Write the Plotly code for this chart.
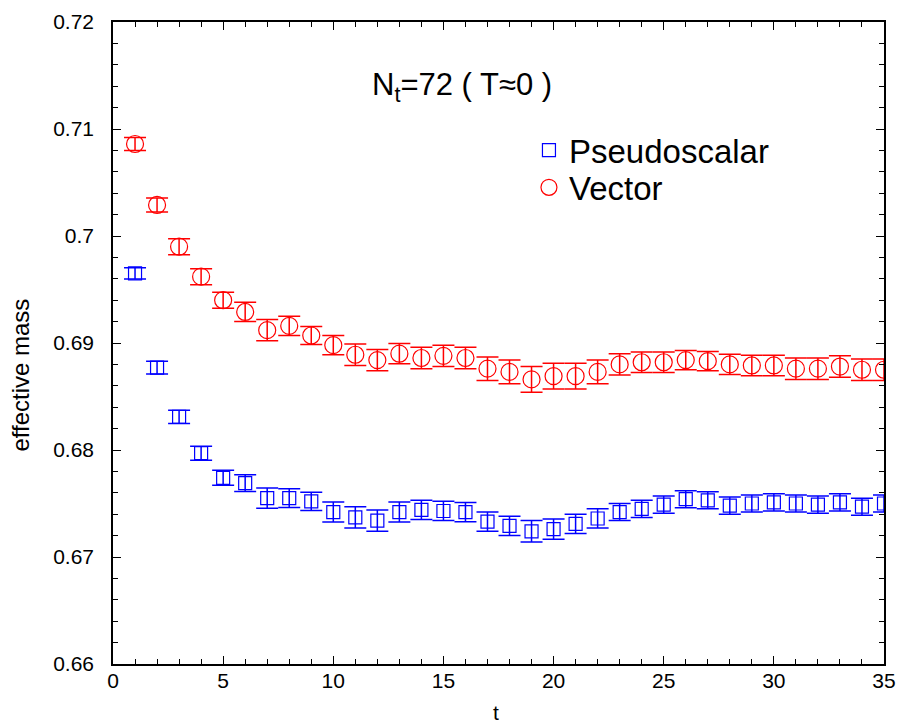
import plotly.graph_objects as go

t_vals = list(range(1, 36))

vector_mass = [0.7086, 0.7029, 0.6990, 0.6962, 0.6940, 0.6929, 0.6912, 0.6916, 0.6907, 0.6898,
               0.6889, 0.6884, 0.6890, 0.6886, 0.6888, 0.6886, 0.6876, 0.6873, 0.6866, 0.6869,
               0.6869, 0.6873, 0.6880, 0.6882, 0.6882, 0.6884, 0.6883, 0.6880, 0.6879, 0.6879,
               0.6876, 0.6876, 0.6878, 0.6875, 0.6875]
vector_err = [0.0006, 0.00065, 0.00075, 0.00075, 0.00075, 0.0009, 0.001, 0.0009, 0.00085, 0.0009,
              0.001, 0.001, 0.00095, 0.001, 0.001, 0.001, 0.0011, 0.0011, 0.0012, 0.0012,
              0.0012, 0.0011, 0.001, 0.00095, 0.00095, 0.0009, 0.0009, 0.00095, 0.00095, 0.00095,
              0.001, 0.001, 0.001, 0.001, 0.001]

ps_mass = [0.6965, 0.6877, 0.6831, 0.6797, 0.6774, 0.6769, 0.6755, 0.6755, 0.6752, 0.6742,
           0.6737, 0.6734, 0.6742, 0.6744, 0.6743, 0.6742, 0.6733, 0.6729, 0.6724, 0.6726,
           0.6731, 0.6736, 0.6742, 0.6745, 0.6749, 0.6754, 0.6753, 0.6748, 0.6750, 0.6751,
           0.6750, 0.6749, 0.6751, 0.6747, 0.6750]
ps_err = [0.00053, 0.0006, 0.00062, 0.00065, 0.0007, 0.00078, 0.00095, 0.00087, 0.00085, 0.00093,
          0.001, 0.001, 0.00093, 0.0009, 0.0009, 0.0009, 0.0009, 0.0009, 0.001, 0.00095,
          0.0009, 0.0009, 0.0008, 0.0008, 0.0008, 0.0008, 0.0008, 0.0008, 0.0008, 0.0008,
          0.0008, 0.0008, 0.0008, 0.0008, 0.0008]

y_tickvals = [0.66, 0.67, 0.68, 0.69, 0.70, 0.71, 0.72]
y_ticktext = ["0.66", "0.67", "0.68", "0.69", "0.7", "0.71", "0.72"]
x_tickvals = [0, 5, 10, 15, 20, 25, 30, 35]
x_ticktext = ["0", "5", "10", "15", "20", "25", "30", "35"]

FONT = "Liberation Sans, Arial, sans-serif"

fig = go.Figure()
fig.add_trace(go.Scatter(
    x=t_vals, y=ps_mass, mode="markers", name="Pseudoscalar", legend="legend",
    marker=dict(symbol="square-open", size=13, color="#0000ff", line=dict(width=1.2, color="#0000ff")),
    error_y=dict(type="data", array=ps_err, visible=True, color="#0000ff", thickness=1.5, width=11),
))
fig.add_trace(go.Scatter(
    x=t_vals, y=vector_mass, mode="markers", name="Vector", legend="legend2",
    marker=dict(symbol="circle-open", size=17, color="#ff0000", line=dict(width=1.2, color="#ff0000")),
    error_y=dict(type="data", array=vector_err, visible=True, color="#ff0000", thickness=1.5, width=11),
))

axis_common = dict(
    showline=True, linecolor="black", linewidth=1.5, mirror="allticks",
    ticks="inside", ticklen=8, tickwidth=1.2, tickcolor="black",
    showgrid=False, zeroline=False, automargin=False,
    tickfont=dict(family=FONT, size=21, color="black"),
)

fig.update_xaxes(
    range=[0, 35], tickvals=x_tickvals, ticktext=x_ticktext,
    minor=dict(dtick=1, ticks="inside", ticklen=5, tickwidth=1, tickcolor="black"),
    ticklabelstandoff=-3,
    **axis_common,
)
fig.update_yaxes(
    range=[0.66, 0.72], tickvals=y_tickvals, ticktext=y_ticktext,
    minor=dict(dtick=0.002, tick0=0.66, ticks="inside", ticklen=5, tickwidth=1, tickcolor="black"),
    ticklabelstandoff=13,
    **axis_common,
)

fig.add_annotation(
    text="t", xref="paper", yref="paper",
    x=0.497, y=-0.075, showarrow=False,
    xanchor="center", yanchor="middle",
    font=dict(family=FONT, size=21, color="black"),
)
fig.add_annotation(
    text="effective mass", xref="paper", yref="paper",
    x=-0.120, y=0.45, showarrow=False, textangle=-90,
    xanchor="center", yanchor="middle",
    font=dict(family=FONT, size=24, color="black"),
)
fig.add_annotation(
    text="N<sub>t</sub>=72 ( T≈0 )", xref="paper", yref="paper",
    x=0.453, y=0.898, showarrow=False, xanchor="center", yanchor="middle",
    font=dict(family=FONT, size=31, color="black"),
)

legend_style = dict(xanchor="left", yanchor="top",
                    font=dict(family=FONT, size=33, color="black"),
                    bgcolor="rgba(0,0,0,0)", borderwidth=0)

fig.update_layout(
    width=900, height=726,
    margin=dict(l=113, r=16, t=22, b=62),
    paper_bgcolor="white", plot_bgcolor="white",
    showlegend=True,
    legend=dict(x=0.5395, y=0.844, **legend_style),
    legend2=dict(x=0.5395, y=0.786, **legend_style),
)

fig.write_html(
    "out.html",
    config={"displayModeBar": False},
    post_script="document.body.style.margin='0';document.body.style.overflow='hidden';",
)
